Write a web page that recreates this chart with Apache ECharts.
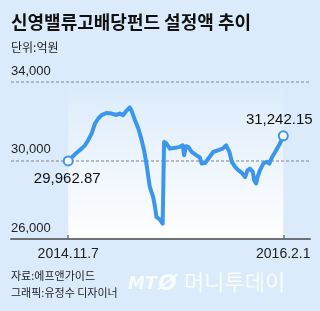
<!DOCTYPE html>
<html>
<head>
<meta charset="utf-8">
<script src="https://cdn.jsdelivr.net/npm/echarts@6/dist/echarts.min.js"></script>
<style>
  html, body { margin: 0; padding: 0; background: #dbebfb; }
  #chart { width: 320px; height: 311px; }
</style>
</head>
<body>
<div id="chart"></div>
<script>
// ---- data ----
const dates = [
  '2014-11-07','2014-11-14','2014-11-24','2014-12-05','2014-12-12','2014-12-19','2014-12-26',
  '2015-01-02','2015-01-09','2015-01-16','2015-01-26','2015-02-06','2015-02-16','2015-02-23',
  '2015-03-02','2015-03-09','2015-03-16','2015-03-20','2015-03-27','2015-04-03','2015-04-10',
  '2015-04-15','2015-04-20','2015-04-27','2015-05-04','2015-05-08','2015-05-11','2015-05-18',
  '2015-05-24','2015-05-27','2015-06-01','2015-06-08','2015-06-19','2015-06-29','2015-07-05',
  '2015-07-08','2015-07-12','2015-07-17','2015-07-24','2015-08-03','2015-08-10','2015-08-14',
  '2015-08-21','2015-08-28','2015-09-07','2015-09-18','2015-09-27','2015-10-04','2015-10-11',
  '2015-10-16','2015-10-23','2015-10-30','2015-11-06','2015-11-13','2015-11-18','2015-11-23',
  '2015-11-29','2015-12-02','2015-12-06','2015-12-09','2015-12-14','2015-12-21','2015-12-28',
  '2016-01-03','2016-01-08','2016-01-15','2016-01-25','2016-02-01'
];
const values = [
  29962.87,30136,30370,30590,30760,31020,31350,
  31860,32120,32290,32400,32370,32300,32370,
  32290,32510,32680,32510,32030,31610,31020,
  30510,29830,28650,28140,27630,27120,26990,
  26780,30930,30850,30590,30630,30680,30760,
  30250,30710,30680,30420,30250,30140,29830,
  29860,30090,30420,30510,30590,30760,30420,
  29920,29660,29490,29360,29150,29490,29580,
  29410,28980,28820,29150,29490,29830,29920,
  29830,30140,30420,30850,31242.15
];
const yTicks = [26000, 30000, 34000];
const xTickLabels = ['2014.11.7', '2016.2.1'];
const titleText = '신영밸류고배당펀드 설정액 추이';
const unitText = '단위:억원';
const sourceText = '자료:에프앤가이드';
const creditText = '그래픽:유정수 디자이너';

// ---- helpers ----
function parseDate(s) {
  const p = s.split('-').map(Number);
  return new Date(p[0], p[1] - 1, p[2]).getTime();
}
function fmt(v, dec) {
  const s = v.toFixed(dec);
  const parts = s.split('.');
  parts[0] = parts[0].replace(/\B(?=(\d{3})+(?!\d))/g, ',');
  return parts.join('.');
}

const times = dates.map(parseDate);
const lineData = times.map((t, i) => [t, values[i]]);
const first = lineData[0];
const last = lineData[lineData.length - 1];
const tickTimes = [first[0], last[0]];

const FONT = "'Liberation Sans', 'Noto Sans CJK KR', sans-serif";
const KFONT = "'Noto Sans CJK KR', sans-serif";
const BLUE = '#3b96ef';

const chart = echarts.init(document.getElementById('chart'), null, { renderer: 'canvas' });
chart.setOption({
  animation: false,
  backgroundColor: '#dbebfb',
  title: [
    { text: titleText, left: 11, top: 11, padding: 0,
      textStyle: { fontFamily: KFONT, fontSize: 18, fontWeight: 'bold', color: '#111', lineHeight: 22 } },
    { text: unitText, left: 11, top: 40, padding: 0,
      textStyle: { fontFamily: KFONT, fontSize: 12, fontWeight: 'normal', color: '#222', lineHeight: 15 } },
    { text: sourceText, left: 11, top: 269, padding: 0,
      textStyle: { fontFamily: KFONT, fontSize: 11, fontWeight: 'normal', color: '#222', lineHeight: 14 } },
    { text: creditText, left: 11, top: 286, padding: 0,
      textStyle: { fontFamily: KFONT, fontSize: 11, fontWeight: 'normal', color: '#222', lineHeight: 14 } }
  ],
  graphic: [
    { type: 'text', left: 128, top: 276, z: 0,
      style: { text: 'MT', font: 'italic bold 17px "DejaVu Sans", sans-serif', fill: 'rgba(255,255,255,0.8)' } },
    { type: 'text', left: 158, top: 273, z: 0,
      style: { text: 'Ø', font: 'italic bold 22px "DejaVu Sans", sans-serif', fill: 'rgba(255,255,255,0.8)' } },
    { type: 'text', left: 184, top: 271, z: 0,
      style: { text: '머니투데이', font: '22px "Noto Sans CJK KR", sans-serif', fill: 'rgba(255,255,255,0.8)' } }
  ],
  grid: { left: 11, right: 10, top: 81.5, bottom: 72, containLabel: false },
  xAxis: {
    type: 'value',
    min: parseDate('2014-07-10'),
    max: parseDate('2016-03-28'),
    z: 5,
    axisLine: { show: true, lineStyle: { color: '#6e7175', width: 2 } },
    axisTick: { show: true, inside: true, length: 4, customValues: tickTimes,
      lineStyle: { color: '#6e7175', width: 1.5 } },
    axisLabel: {
      customValues: tickTimes,
      margin: 8,
      fontFamily: FONT, fontSize: 14, color: '#222',
      formatter: function (val) {
        const i = tickTimes.indexOf(val);
        return i >= 0 ? xTickLabels[i] : '';
      }
    },
    splitLine: { show: false }
  },
  yAxis: {
    type: 'value',
    min: yTicks[0],
    max: yTicks[yTicks.length - 1],
    interval: yTicks[1] - yTicks[0],
    z: 2,
    axisLine: { show: false },
    axisTick: { show: false },
    axisLabel: {
      inside: false, margin: 0, align: 'left', verticalAlign: 'bottom',
      padding: [0, 0, 4, 0],
      fontFamily: FONT, fontSize: 13, color: '#222',
      formatter: function (v) { return fmt(v, 0); }
    },
    splitLine: { show: true, lineStyle: { color: '#9ea8b2', width: 1.5, type: [3, 2] } }
  },
  series: [
    {
      type: 'line',
      data: lineData,
      z: 3,
      symbol: 'none',
      smooth: false,
      lineStyle: { color: BLUE, width: 4, join: 'round', cap: 'round' },
      markArea: {
        silent: true,
        z: 1,
        itemStyle: {
          color: new echarts.graphic.LinearGradient(0, 0, 0, 1, [
            { offset: 0, color: 'rgba(255,255,255,0)' },
            { offset: 1, color: 'rgba(255,255,255,1)' }
          ])
        },
        data: [[
          { xAxis: first[0], yAxis: yTicks[yTicks.length - 1] },
          { xAxis: last[0], yAxis: yTicks[0] }
        ]]
      }
    },
    {
      type: 'scatter',
      z: 4,
      symbol: 'circle',
      symbolSize: 9,
      itemStyle: { color: '#ffffff', borderColor: BLUE, borderWidth: 2, opacity: 1 },
      label: { show: true, fontFamily: FONT, fontSize: 15, color: '#111',
        formatter: function (p) { return fmt(p.value[1], 2); } },
      data: [
        { value: first, label: { position: 'bottom', distance: 5, offset: [-1, 0] } },
        { value: last, label: { position: 'top', distance: 3, offset: [-4, 0] } }
      ]
    }
  ]
});
</script>
</body>
</html>
